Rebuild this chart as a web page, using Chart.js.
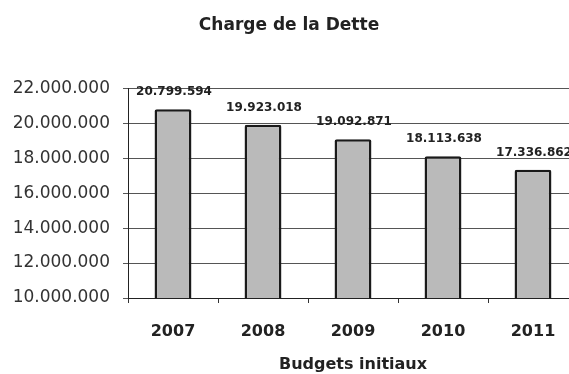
<!DOCTYPE html>
<html>
<head>
<meta charset="utf-8">
<script src="https://cdn.jsdelivr.net/npm/chart.js@4.4.1/dist/chart.umd.min.js"></script>
<style>
  html, body { margin: 0; padding: 0; background: #ffffff; overflow: hidden; }
  #wrap { width: 580px; height: 374px; }
</style>
</head>
<body>
<div id="wrap"><canvas id="detteChart" width="580" height="374"></canvas></div>
<script>
/* budget years and debt charge (euros) */
const years = ['2007', '2008', '2009', '2010', '2011'];
const charge = [20799594, 19923018, 19092871, 18113638, 17336862];
const yMin = 10000000;
const yMax = 22000000;
const yStep = 2000000;

// 20799594 -> "20.799.594"
function dots(n) {
  return String(Math.round(n)).replace(/\B(?=(\d{3})+(?!\d))/g, '.');
}

Chart.defaults.font.family = "'DejaVu Sans', sans-serif";

/* value written above each bar */
const barValues = {
  id: 'barValues',
  afterDatasetsDraw(chart) {
    const c = chart.ctx;
    const meta = chart.getDatasetMeta(0);
    c.save();
    c.font = 'bold 12px "DejaVu Sans"';
    c.fillStyle = '#222';
    c.textAlign = 'center';
    c.textBaseline = 'middle';
    meta.data.forEach((bar, i) => {
      c.fillText(dots(charge[i]), bar.x + 1, bar.y - 17);
    });
    c.restore();
  }
};

let ctx = document.getElementById('detteChart').getContext('2d');
let detteChart = new Chart(ctx, {
  type: 'bar',
  data: {
    labels: years,
    datasets: [{
      label: 'Charge de la Dette',
      data: charge,
      backgroundColor: '#bababa',
      borderColor: '#1a1a1a',
      borderWidth: 2.5,
      borderRadius: 2,
      borderSkipped: 'start',
      barPercentage: 0.41,
      categoryPercentage: 1,
    }]
  },
  options: {
    responsive: false,
    animation: false,
    layout: { padding: { left: 0, right: 2, top: 0, bottom: 0 } },
    plugins: {
      legend: { display: false },
      tooltip: { enabled: false },
      title: {
        display: true,
        text: 'Charge de la Dette',
        color: '#222',
        font: { size: 17, weight: 'bold' },
        padding: { top: 15, bottom: 53 },
      },
    },
    scales: {
      x: {
        afterFit: (scale) => { scale.height = 76; },
        grid: {
          display: true,
          drawOnChartArea: false,
          tickLength: 5,
          color: '#333',
        },
        border: { color: '#222', width: 1 },
        ticks: {
          color: '#222',
          padding: 19,
          font: { size: 16, weight: 'bold' },
        },
        title: {
          display: true,
          text: 'Budgets initiaux',
          color: '#222',
          font: { size: 16, weight: 'bold' },
          padding: { top: 16, bottom: 0 },
        },
      },
      y: {
        min: yMin,
        max: yMax,
        afterFit: (scale) => { scale.width = 128; },
        grid: {
          color: '#555',
          lineWidth: 1,
          tickLength: 5,
        },
        border: { color: '#222', width: 1 },
        ticks: {
          stepSize: yStep,
          color: '#333',
          padding: 13,
          font: { size: 17 },
          callback: (v) => dots(v),
        },
      },
    },
  },
  plugins: [barValues],
});
</script>
</body>
</html>
